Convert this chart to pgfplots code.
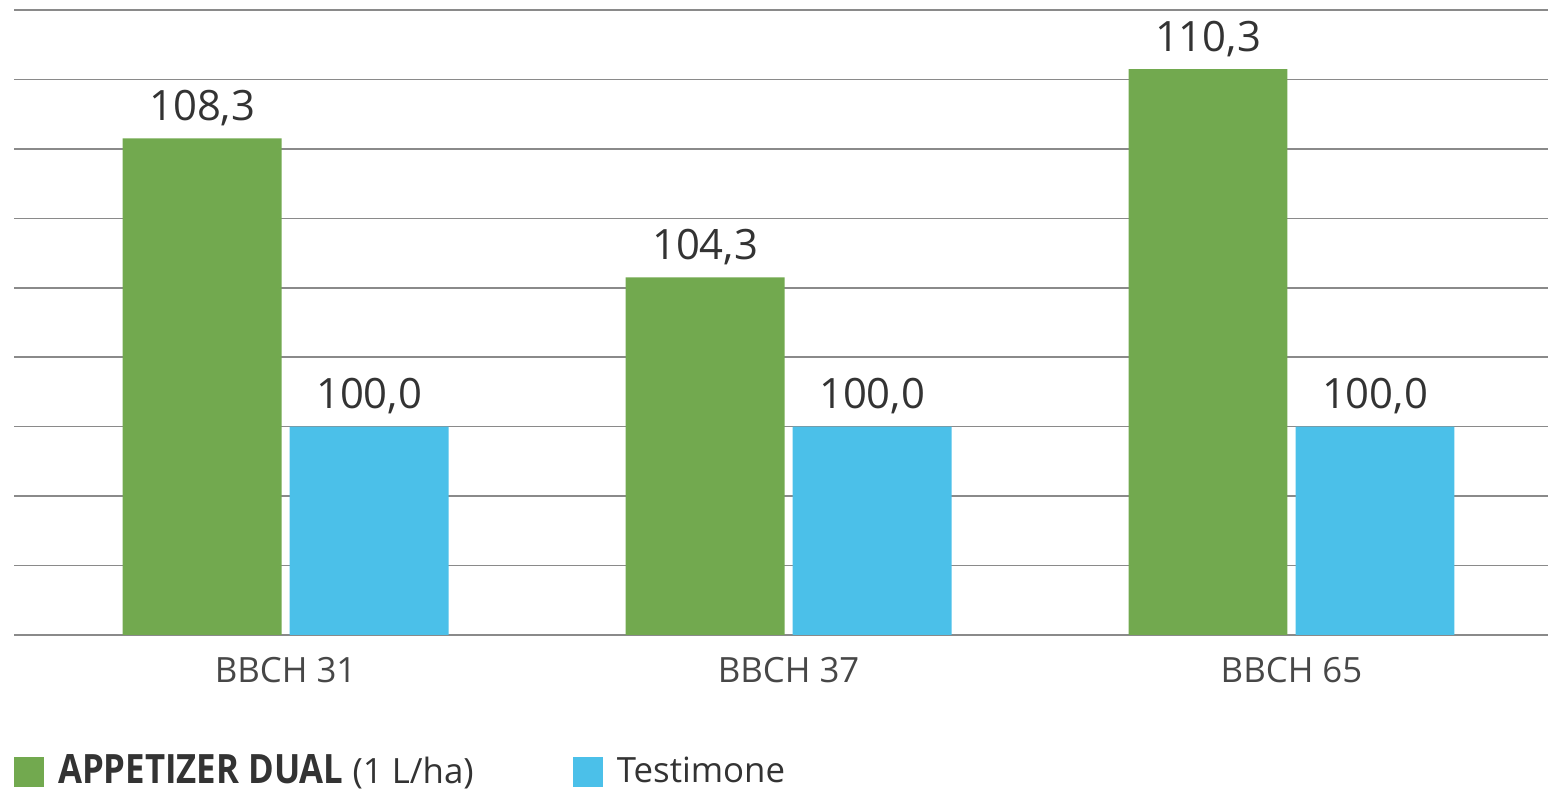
\documentclass[border=0pt]{standalone}
\usepackage{fontspec}
\setmainfont{Open Sans}
\usepackage{pgfplots}
\pgfplotsset{compat=1.18}
\usepackage{xcolor}
\definecolor{dualGreen}{HTML}{72A94F}
\definecolor{testBlue}{HTML}{4BC0E9}
\definecolor{txt}{HTML}{333333}
\definecolor{gridc}{HTML}{8A8A8A}

\begin{document}
\begin{tikzpicture}
\useasboundingbox (-0.14,-1.57) rectangle (15.34,6.35);
\begin{axis}[
  at={(0,0)}, anchor=south west,
  scale only axis,
  width=15.34cm, height=6.25cm,
  xmin=-0.54, xmax=2.51,
  ymin=94, ymax=112,
  ytick={94,96,...,112},
  yticklabel=\empty,
  yticklabel style={overlay},
  major tick length=0pt,
  ymajorgrids,
  major grid style={line width=0.45pt, draw=gridc},
  axis line style={draw=none},
  xtick={0,1,2},
  xticklabels={BBCH 31, BBCH 37, BBCH 65},
  xticklabel style={font=\fontsize{9.9}{12}\selectfont, text=txt!90, yshift=-0.1cm},
  xtick style={draw=none},
  ybar, bar width=0.316,
  nodes near coords,
  nodes near coords style={font=\fontsize{11.9}{14}\selectfont, text=txt,
    /pgf/number format/.cd, fixed, fixed zerofill, precision=1, use comma,
    assume math mode=true},
  legend columns=2,
  legend style={at={(0,0)}, anchor=north west, yshift=-1.13cm,
    draw=none, fill=none, font=\fontsize{9.9}{12}\selectfont, text=txt,
    inner sep=0pt, outer sep=0pt,
    /tikz/every odd column/.append style={column sep=0.07cm},
    /tikz/every even column/.append style={column sep=0.92cm}},
  legend image code/.code={\fill[#1] (0cm,-0.15cm) rectangle (0.3cm,0.15cm);},
]
\addplot[fill=dualGreen, draw=none, bar shift=-0.166] coordinates {
  (0,108.3) (1,104.3) (2,110.3)
};
\addplot[fill=testBlue, draw=none, bar shift=0.166] coordinates {
  (0,100.0) (1,100.0) (2,100.0)
};
\legend{{\scalebox{0.86}[1]{\fontsize{11.5}{14}\selectfont\bfseries APPETIZER DUAL} (1 L/ha)}, Testimone}
\end{axis}
\end{tikzpicture}
\end{document}
